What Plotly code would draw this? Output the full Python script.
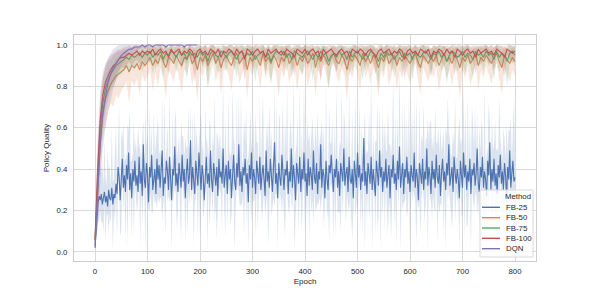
import plotly.graph_objects as go

# ---------------- data ----------------
epochs_fine = list(range(0, 801, 2))      # FB-25 sampled every 2 epochs
epochs = list(range(0, 801, 5))           # other FB runs sampled every 5 epochs
dqn_epochs = list(range(0, 200, 5))       # DQN run stops near epoch 200
methods = ["FB-25", "FB-50", "FB-75", "FB-100", "DQN"]
x_ticks = [0, 100, 200, 300, 400, 500, 600, 700, 800]
y_ticks = [0.0, 0.2, 0.4, 0.6, 0.8, 1.0]

fb25_mean = [
0.02,0.10,0.18,0.24,0.27,0.25,0.28,0.23,0.26,0.29,0.24,0.27,0.22,0.30,0.26,0.25,0.31,0.23,0.28,0.26,
0.33,0.28,0.41,0.36,0.25,0.39,0.45,0.31,0.37,0.29,0.42,0.35,0.48,0.30,0.38,0.26,0.40,0.34,0.44,0.32,
0.37,0.29,0.46,0.33,0.39,0.27,0.52,0.35,0.31,0.43,0.38,0.24,0.41,0.36,0.47,0.30,0.34,0.40,0.28,0.45,
0.35,0.42,0.31,0.38,0.49,0.27,0.36,0.33,0.44,0.39,0.30,0.46,0.34,0.25,0.40,0.37,0.51,0.32,0.38,0.29,
0.43,0.36,0.31,0.47,0.34,0.40,0.26,0.38,0.45,0.33,0.37,0.54,0.30,0.41,0.35,0.28,0.44,0.39,0.32,0.48,
0.36,0.30,0.42,0.37,0.25,0.40,0.46,0.33,0.38,0.31,0.49,0.35,0.29,0.43,0.37,0.32,0.41,0.27,0.45,0.36,
0.39,0.33,0.50,0.31,0.37,0.42,0.28,0.44,0.35,0.40,0.26,0.38,0.47,0.34,0.30,0.43,0.36,0.52,0.32,0.39,
0.29,0.41,0.37,0.45,0.33,0.38,0.24,0.42,0.35,0.48,0.31,0.40,0.36,0.28,0.44,0.38,0.33,0.46,0.30,0.37,
0.42,0.35,0.27,0.49,0.34,0.39,0.31,0.45,0.37,0.29,0.41,0.53,0.33,0.38,0.26,0.43,0.36,0.32,0.47,0.35,
0.30,0.40,0.37,0.44,0.28,0.39,0.34,0.50,0.31,0.42,0.36,0.25,0.43,0.38,0.33,0.46,0.29,0.40,0.35,0.48,
0.34,0.38,0.27,0.45,0.32,0.41,0.37,0.30,0.49,0.36,0.33,0.43,0.28,0.39,0.35,0.52,0.31,0.40,0.37,0.26,
0.44,0.35,0.30,0.42,0.38,0.47,0.33,0.29,0.40,0.36,0.45,0.31,0.39,0.27,0.43,0.37,0.34,0.50,0.32,0.38,
0.41,0.29,0.46,0.35,0.33,0.40,0.26,0.44,0.37,0.31,0.48,0.36,0.42,0.30,0.38,0.34,0.55,0.32,0.39,0.28,
0.43,0.37,0.33,0.46,0.30,0.40,0.35,0.27,0.44,0.38,0.32,0.49,0.36,0.41,0.29,0.39,0.34,0.45,0.31,0.37,
0.42,0.26,0.40,0.36,0.47,0.33,0.38,0.30,0.44,0.35,0.51,0.31,0.37,0.43,0.28,0.40,0.36,0.46,0.33,0.39,
0.29,0.42,0.37,0.34,0.48,0.31,0.40,0.36,0.25,0.43,0.38,0.33,0.45,0.30,0.39,0.35,0.50,0.32,0.41,0.37,
0.28,0.44,0.35,0.40,0.31,0.47,0.36,0.33,0.42,0.27,0.38,0.45,0.34,0.39,0.30,0.43,0.37,0.52,0.32,0.36,
0.41,0.29,0.46,0.38,0.33,0.40,0.35,0.26,0.44,0.37,0.31,0.48,0.36,0.42,0.30,0.39,0.34,0.45,0.28,0.40,
0.37,0.43,0.32,0.38,0.50,0.33,0.29,0.41,0.36,0.46,0.31,0.39,0.35,0.27,0.44,0.37,0.53,0.30,0.40,0.34,
0.45,0.32,0.38,0.28,0.42,0.36,0.47,0.33,0.39,0.30,0.43,0.37,0.26,0.41,0.35,0.49,0.31,0.38,0.44,0.34,
0.36]
# distance from the mean line down to the lower / up to the upper edge of the FB-25 band
fb25_lo_gap = [
0.01,0.04,0.07,0.09,0.12,0.05,0.14,0.08,0.16,0.06,0.19,0.09,0.04,0.21,0.07,0.12,0.05,0.24,0.08,0.11,
0.05,0.22,0.08,0.03,0.17,0.29,0.06,0.12,0.04,0.25,0.09,0.33,0.05,0.14,0.07,0.20,0.04,0.27,0.10,0.06,
0.18,0.04,0.09,0.31,0.06,0.13,0.23,0.05,0.36,0.08,0.15,0.04,0.21,0.07,0.28,0.11,0.05,0.17,0.03,0.24,
0.07,0.19,0.05,0.12,0.34,0.04,0.09,0.26,0.06,0.15,0.03,0.22,0.08,0.30,0.05,0.13,0.19,0.04,0.27,0.09,
0.04,0.16,0.28,0.06,0.11,0.05,0.23,0.08,0.37,0.04,0.14,0.20,0.06,0.09,0.32,0.05,0.17,0.07,0.25,0.12,
0.29,0.06,0.10,0.21,0.04,0.15,0.08,0.33,0.05,0.18,0.26,0.04,0.12,0.07,0.22,0.09,0.35,0.05,0.14,0.06,
0.11,0.24,0.05,0.08,0.30,0.04,0.17,0.13,0.06,0.27,0.09,0.05,0.20,0.38,0.07,0.12,0.04,0.23,0.10,0.16,
0.06,0.13,0.31,0.05,0.19,0.08,0.25,0.04,0.11,0.34,0.06,0.16,0.09,0.21,0.05,0.28,0.07,0.14,0.04,0.22,
0.18,0.05,0.09,0.27,0.06,0.36,0.12,0.04,0.20,0.08,0.15,0.31,0.05,0.10,0.24,0.06,0.13,0.04,0.29,0.07,
0.09,0.33,0.05,0.14,0.07,0.21,0.04,0.26,0.11,0.06,0.38,0.08,0.17,0.05,0.23,0.10,0.04,0.30,0.06,0.15,
0.24,0.07,0.12,0.04,0.28,0.09,0.18,0.05,0.35,0.06,0.13,0.22,0.04,0.16,0.08,0.32,0.05,0.11,0.26,0.07,
0.05,0.19,0.08,0.37,0.06,0.14,0.04,0.23,0.10,0.29,0.05,0.12,0.20,0.07,0.33,0.04,0.17,0.09,0.06,0.25,
0.13,0.04,0.27,0.07,0.16,0.34,0.05,0.10,0.21,0.06,0.30,0.08,0.04,0.18,0.11,0.26,0.05,0.38,0.07,0.14,
0.06,0.22,0.09,0.05,0.31,0.12,0.04,0.19,0.07,0.27,0.15,0.05,0.35,0.08,0.13,0.04,0.24,0.10,0.06,0.29,
0.17,0.05,0.33,0.08,0.04,0.20,0.11,0.28,0.06,0.14,0.05,0.36,0.09,0.23,0.04,0.16,0.07,0.30,0.12,0.05,
0.26,0.08,0.14,0.04,0.21,0.06,0.37,0.10,0.05,0.18,0.29,0.07,0.12,0.04,0.25,0.09,0.16,0.34,0.05,0.11,
0.04,0.28,0.07,0.19,0.12,0.05,0.32,0.09,0.23,0.04,0.15,0.06,0.27,0.10,0.38,0.05,0.13,0.21,0.07,0.17,
0.30,0.06,0.11,0.24,0.04,0.16,0.09,0.35,0.05,0.20,0.13,0.07,0.29,0.04,0.18,0.26,0.06,0.10,0.33,0.05,
0.12,0.22,0.05,0.09,0.31,0.07,0.17,0.04,0.27,0.11,0.06,0.36,0.08,0.14,0.05,0.23,0.10,0.04,0.19,0.28,
0.07,0.15,0.34,0.05,0.12,0.25,0.04,0.20,0.08,0.30,0.06,0.16,0.09,0.37,0.05,0.13,0.22,0.07,0.27,0.04,
0.18]
fb25_hi_gap = [
0.01,0.05,0.09,0.13,0.07,0.17,0.10,0.21,0.06,0.24,0.12,0.05,0.27,0.09,0.16,0.06,0.30,0.11,0.07,0.19,
0.28,0.06,0.14,0.35,0.05,0.20,0.09,0.31,0.07,0.16,0.04,0.26,0.11,0.38,0.06,0.18,0.08,0.29,0.05,0.22,
0.09,0.33,0.06,0.17,0.05,0.27,0.12,0.04,0.39,0.08,0.21,0.06,0.30,0.10,0.15,0.05,0.36,0.07,0.24,0.13,
0.31,0.05,0.19,0.08,0.26,0.06,0.40,0.11,0.05,0.23,0.09,0.34,0.06,0.17,0.28,0.05,0.12,0.37,0.07,0.20,
0.14,0.06,0.32,0.09,0.22,0.05,0.29,0.12,0.06,0.36,0.08,0.18,0.04,0.27,0.10,0.41,0.06,0.21,0.13,0.05,
0.25,0.38,0.07,0.16,0.05,0.30,0.09,0.20,0.06,0.34,0.11,0.05,0.26,0.08,0.39,0.06,0.17,0.29,0.05,0.22,
0.07,0.19,0.35,0.06,0.27,0.10,0.05,0.32,0.14,0.06,0.23,0.40,0.08,0.18,0.05,0.31,0.09,0.25,0.06,0.37,
0.12,0.05,0.28,0.08,0.36,0.06,0.21,0.11,0.33,0.05,0.17,0.26,0.07,0.39,0.09,0.15,0.05,0.30,0.08,0.24,
0.34,0.07,0.16,0.05,0.29,0.10,0.41,0.06,0.22,0.13,0.05,0.27,0.09,0.35,0.06,0.19,0.31,0.05,0.14,0.38,
0.06,0.25,0.10,0.37,0.05,0.18,0.30,0.07,0.13,0.42,0.06,0.23,0.09,0.28,0.05,0.34,0.11,0.20,0.07,0.32,
0.16,0.05,0.39,0.08,0.26,0.06,0.21,0.35,0.05,0.12,0.29,0.07,0.40,0.10,0.18,0.05,0.33,0.08,0.24,0.06,
0.37,0.10,0.06,0.28,0.15,0.05,0.31,0.09,0.22,0.06,0.36,0.13,0.05,0.27,0.08,0.41,0.06,0.19,0.30,0.07,
0.23,0.06,0.34,0.11,0.05,0.29,0.07,0.20,0.38,0.05,0.15,0.09,0.32,0.06,0.25,0.10,0.05,0.36,0.08,0.21,
0.05,0.31,0.12,0.40,0.07,0.18,0.06,0.27,0.09,0.35,0.05,0.22,0.14,0.06,0.38,0.08,0.29,0.05,0.17,0.33,
0.10,0.26,0.06,0.19,0.37,0.05,0.30,0.08,0.23,0.06,0.41,0.11,0.05,0.28,0.09,0.34,0.06,0.20,0.07,0.39,
0.06,0.17,0.32,0.05,0.27,0.09,0.36,0.06,0.14,0.30,0.05,0.24,0.08,0.42,0.07,0.19,0.05,0.33,0.11,0.26,
0.35,0.05,0.21,0.08,0.39,0.06,0.16,0.28,0.05,0.34,0.10,0.07,0.25,0.05,0.31,0.13,0.38,0.06,0.22,0.09,
0.07,0.29,0.05,0.36,0.12,0.06,0.23,0.40,0.08,0.18,0.05,0.33,0.09,0.26,0.06,0.37,0.05,0.20,0.11,0.31,
0.24,0.06,0.38,0.09,0.17,0.05,0.32,0.07,0.28,0.13,0.05,0.41,0.08,0.21,0.06,0.35,0.10,0.05,0.27,0.16,
0.05,0.33,0.11,0.22,0.06,0.39,0.08,0.17,0.05,0.30,0.12,0.07,0.36,0.06,0.25,0.09,0.34,0.05,0.19,0.40,
0.10]

fb50_mean = [
0.05,0.30,0.52,0.66,0.74,0.78,0.81,0.83,0.85,0.86,
0.87,0.88,0.90,0.87,0.90,0.89,0.91,0.88,0.92,0.90,
0.92,0.94,0.90,0.93,0.91,0.95,0.92,0.89,0.94,0.93,
0.91,0.95,0.92,0.90,0.94,0.93,0.96,0.91,0.93,0.88,
0.94,0.92,0.95,0.90,0.93,0.96,0.91,0.94,0.89,0.93,
0.95,0.92,0.90,0.94,0.96,0.91,0.93,0.95,0.88,0.94,
0.92,0.95,0.93,0.90,0.96,0.92,0.94,0.91,0.95,0.93,
0.89,0.94,0.92,0.96,0.91,0.93,0.95,0.90,0.94,0.92,
0.95,0.91,0.93,0.96,0.89,0.94,0.92,0.95,0.93,0.90,
0.94,0.96,0.92,0.91,0.95,0.93,0.88,0.94,0.92,0.95,
0.93,0.90,0.96,0.92,0.94,0.91,0.95,0.93,0.89,0.94,
0.92,0.96,0.91,0.93,0.95,0.90,0.94,0.92,0.95,0.93,
0.91,0.94,0.96,0.92,0.89,0.95,0.93,0.91,0.94,0.92,
0.95,0.90,0.93,0.96,0.92,0.94,0.91,0.95,0.93,0.89,
0.94,0.92,0.95,0.91,0.93,0.96,0.90,0.94,0.92,0.95,
0.93,0.91,0.94,0.96,0.92,0.89,0.95,0.93,0.91,0.94,
0.92]
fb50_lo = [
0.03,0.18,0.38,0.55,0.62,0.68,0.72,0.70,0.76,0.74,
0.78,0.80,0.82,0.72,0.83,0.80,0.84,0.76,0.86,0.82,
0.85,0.88,0.78,0.87,0.80,0.89,0.84,0.74,0.88,0.86,
0.82,0.89,0.85,0.77,0.88,0.86,0.91,0.80,0.87,0.73,
0.88,0.84,0.90,0.79,0.86,0.91,0.82,0.88,0.76,0.87,
0.89,0.85,0.78,0.88,0.91,0.81,0.86,0.90,0.74,0.88,
0.85,0.90,0.87,0.79,0.91,0.84,0.88,0.82,0.89,0.86,
0.75,0.88,0.84,0.91,0.81,0.87,0.90,0.78,0.88,0.85,
0.90,0.80,0.86,0.91,0.76,0.88,0.84,0.90,0.86,0.79,
0.88,0.91,0.85,0.82,0.89,0.86,0.73,0.88,0.84,0.90,
0.86,0.78,0.91,0.84,0.88,0.81,0.89,0.86,0.75,0.88,
0.84,0.91,0.80,0.86,0.90,0.78,0.88,0.84,0.89,0.86,
0.81,0.88,0.91,0.84,0.76,0.89,0.86,0.82,0.88,0.84,
0.90,0.78,0.86,0.91,0.84,0.88,0.80,0.89,0.86,0.74,
0.88,0.84,0.90,0.80,0.86,0.91,0.78,0.88,0.84,0.90,
0.86,0.81,0.88,0.91,0.84,0.76,0.89,0.86,0.82,0.88,
0.85]
fb50_hi = [
0.08,0.42,0.66,0.78,0.84,0.87,0.89,0.91,0.93,0.94,
0.95,0.95,0.97,0.95,0.97,0.96,0.98,0.96,0.98,0.97,
0.98,0.99,0.97,0.99,0.98,1.00,0.98,0.97,0.99,0.99,
0.97,1.00,0.98,0.97,0.99,0.98,1.00,0.97,0.99,0.96,
0.99,0.98,1.00,0.97,0.98,1.00,0.97,0.99,0.96,0.98,
1.00,0.98,0.97,0.99,1.00,0.97,0.98,1.00,0.96,0.99,
0.98,1.00,0.98,0.97,1.00,0.98,0.99,0.97,1.00,0.98,
0.96,0.99,0.98,1.00,0.97,0.98,1.00,0.97,0.99,0.98,
1.00,0.97,0.98,1.00,0.96,0.99,0.98,1.00,0.98,0.97,
0.99,1.00,0.98,0.97,1.00,0.98,0.96,0.99,0.98,1.00,
0.98,0.97,1.00,0.98,0.99,0.97,1.00,0.98,0.96,0.99,
0.98,1.00,0.97,0.98,1.00,0.97,0.99,0.98,1.00,0.98,
0.97,0.99,1.00,0.98,0.96,1.00,0.98,0.97,0.99,0.98,
1.00,0.97,0.98,1.00,0.98,0.99,0.97,1.00,0.98,0.96,
0.99,0.98,1.00,0.97,0.98,1.00,0.97,0.99,0.98,1.00,
0.98,0.97,0.99,1.00,0.98,0.96,1.00,0.98,0.97,0.99,
0.98]

fb75_mean = [
0.06,0.36,0.60,0.72,0.79,0.83,0.86,0.88,0.90,0.91,
0.92,0.93,0.94,0.93,0.95,0.94,0.95,0.96,0.94,0.96,
0.95,0.97,0.94,0.96,0.95,0.97,0.93,0.96,0.95,0.97,
0.96,0.94,0.97,0.95,0.96,0.93,0.97,0.95,0.96,0.94,
0.97,0.95,0.96,0.92,0.96,0.97,0.95,0.94,0.97,0.96,
0.94,0.96,0.97,0.95,0.93,0.96,0.97,0.94,0.96,0.95,
0.97,0.93,0.95,0.96,0.97,0.94,0.96,0.92,0.95,0.97,
0.96,0.95,0.97,0.94,0.96,0.93,0.97,0.96,0.95,0.94,
0.96,0.97,0.95,0.93,0.96,0.94,0.97,0.95,0.96,0.92,
0.95,0.96,0.94,0.97,0.95,0.96,0.93,0.97,0.94,0.96,
0.97,0.95,0.93,0.96,0.94,0.97,0.96,0.95,0.92,0.96,
0.94,0.97,0.95,0.96,0.93,0.95,0.97,0.94,0.96,0.95,
0.96,0.93,0.97,0.95,0.94,0.96,0.97,0.95,0.93,0.96,
0.95,0.97,0.94,0.96,0.92,0.95,0.97,0.96,0.94,0.95,
0.97,0.94,0.96,0.95,0.93,0.97,0.95,0.96,0.94,0.97,
0.95,0.96,0.93,0.97,0.94,0.96,0.95,0.92,0.96,0.97,
0.95]
fb75_lo = [
0.03,0.22,0.45,0.60,0.68,0.74,0.78,0.80,0.83,0.85,
0.86,0.88,0.89,0.86,0.90,0.88,0.90,0.92,0.87,0.91,
0.90,0.93,0.86,0.92,0.89,0.93,0.84,0.92,0.90,0.93,
0.92,0.87,0.93,0.89,0.92,0.83,0.93,0.90,0.92,0.87,
0.93,0.89,0.92,0.80,0.91,0.93,0.90,0.86,0.93,0.92,
0.87,0.92,0.93,0.90,0.84,0.92,0.93,0.88,0.92,0.90,
0.93,0.82,0.90,0.92,0.93,0.87,0.92,0.81,0.90,0.93,
0.92,0.90,0.93,0.87,0.92,0.84,0.93,0.92,0.89,0.86,
0.92,0.93,0.90,0.83,0.92,0.87,0.93,0.90,0.92,0.79,
0.90,0.92,0.87,0.93,0.89,0.92,0.84,0.93,0.87,0.92,
0.93,0.90,0.83,0.92,0.88,0.93,0.92,0.89,0.80,0.92,
0.87,0.93,0.90,0.92,0.84,0.90,0.93,0.87,0.92,0.89,
0.92,0.83,0.93,0.90,0.86,0.92,0.93,0.90,0.84,0.92,
0.89,0.93,0.87,0.92,0.81,0.90,0.93,0.92,0.87,0.89,
0.93,0.86,0.92,0.90,0.84,0.93,0.89,0.92,0.87,0.93,
0.90,0.92,0.83,0.93,0.87,0.92,0.90,0.80,0.92,0.93,
0.90]
fb75_hi = [
0.09,0.50,0.74,0.84,0.89,0.92,0.93,0.95,0.96,0.97,
0.97,0.98,0.98,0.98,0.99,0.99,0.99,1.00,0.99,1.00,
0.99,1.00,0.98,1.00,0.99,1.00,0.98,1.00,0.99,1.00,
1.00,0.98,1.00,0.99,1.00,0.98,1.00,0.99,1.00,0.99,
1.00,0.99,1.00,0.98,1.00,1.00,0.99,0.98,1.00,1.00,
0.99,1.00,1.00,0.99,0.98,1.00,1.00,0.99,1.00,0.99,
1.00,0.98,0.99,1.00,1.00,0.99,1.00,0.98,0.99,1.00,
1.00,0.99,1.00,0.99,1.00,0.98,1.00,1.00,0.99,0.99,
1.00,1.00,0.99,0.98,1.00,0.99,1.00,0.99,1.00,0.98,
0.99,1.00,0.99,1.00,0.99,1.00,0.98,1.00,0.99,1.00,
1.00,0.99,0.98,1.00,0.99,1.00,1.00,0.99,0.98,1.00,
0.99,1.00,0.99,1.00,0.98,0.99,1.00,0.99,1.00,0.99,
1.00,0.98,1.00,0.99,0.99,1.00,1.00,0.99,0.98,1.00,
0.99,1.00,0.99,1.00,0.98,0.99,1.00,1.00,0.99,0.99,
1.00,0.99,1.00,0.99,0.98,1.00,0.99,1.00,0.99,1.00,
0.99,1.00,0.98,1.00,0.99,1.00,0.99,0.98,1.00,1.00,
0.99]

fb100_mean = [
0.06,0.40,0.64,0.76,0.82,0.85,0.88,0.90,0.91,0.93,
0.94,0.94,0.95,0.96,0.95,0.96,0.97,0.95,0.97,0.96,
0.97,0.96,0.98,0.95,0.97,0.98,0.96,0.97,0.94,0.98,
0.96,0.97,0.98,0.95,0.97,0.96,0.98,0.97,0.93,0.97,
0.98,0.96,0.97,0.95,0.98,0.97,0.96,0.98,0.94,0.97,
0.96,0.98,0.97,0.95,0.98,0.96,0.97,0.93,0.98,0.97,
0.95,0.97,0.98,0.96,0.97,0.94,0.98,0.96,0.97,0.98,
0.96,0.97,0.95,0.98,0.97,0.96,0.94,0.98,0.97,0.96,
0.98,0.95,0.97,0.98,0.96,0.97,0.93,0.98,0.96,0.97,
0.98,0.96,0.95,0.97,0.98,0.96,0.97,0.94,0.98,0.97,
0.96,0.98,0.97,0.95,0.97,0.98,0.96,0.94,0.97,0.98,
0.96,0.97,0.98,0.95,0.97,0.96,0.98,0.97,0.93,0.97,
0.98,0.96,0.97,0.95,0.98,0.97,0.96,0.98,0.94,0.97,
0.96,0.98,0.97,0.95,0.98,0.96,0.97,0.94,0.98,0.97,
0.95,0.97,0.98,0.96,0.97,0.94,0.98,0.96,0.97,0.98,
0.96,0.97,0.95,0.98,0.97,0.96,0.94,0.98,0.97,0.96,
0.97]
fb100_lo = [
0.03,0.25,0.50,0.64,0.72,0.76,0.80,0.83,0.85,0.88,
0.89,0.89,0.90,0.92,0.90,0.92,0.93,0.89,0.93,0.91,
0.94,0.91,0.95,0.88,0.94,0.95,0.91,0.93,0.85,0.95,
0.91,0.94,0.95,0.88,0.93,0.91,0.95,0.93,0.82,0.94,
0.95,0.90,0.93,0.87,0.95,0.94,0.91,0.95,0.86,0.93,
0.91,0.95,0.94,0.88,0.95,0.90,0.93,0.83,0.95,0.94,
0.88,0.93,0.95,0.91,0.94,0.86,0.95,0.90,0.93,0.95,
0.91,0.94,0.87,0.95,0.93,0.90,0.85,0.95,0.94,0.91,
0.95,0.88,0.93,0.95,0.91,0.94,0.82,0.95,0.90,0.93,
0.95,0.91,0.87,0.94,0.95,0.90,0.93,0.85,0.95,0.94,
0.91,0.95,0.93,0.88,0.94,0.95,0.90,0.86,0.93,0.95,
0.91,0.94,0.95,0.87,0.93,0.91,0.95,0.94,0.83,0.93,
0.95,0.90,0.94,0.88,0.95,0.93,0.91,0.95,0.86,0.94,
0.91,0.95,0.93,0.88,0.95,0.90,0.94,0.85,0.95,0.93,
0.87,0.94,0.95,0.91,0.93,0.86,0.95,0.90,0.94,0.95,
0.91,0.93,0.88,0.95,0.94,0.90,0.85,0.95,0.93,0.91,
0.93]
fb100_hi = [
0.09,0.55,0.77,0.87,0.91,0.93,0.95,0.96,0.97,0.98,
0.98,0.99,0.99,1.00,0.99,1.00,1.00,0.99,1.00,0.99,
1.00,0.99,1.00,0.99,1.00,1.00,0.99,1.00,0.98,1.00,
0.99,1.00,1.00,0.99,1.00,0.99,1.00,1.00,0.98,1.00,
1.00,0.99,1.00,0.99,1.00,1.00,0.99,1.00,0.98,1.00,
0.99,1.00,1.00,0.99,1.00,0.99,1.00,0.98,1.00,1.00,
0.99,1.00,1.00,0.99,1.00,0.98,1.00,0.99,1.00,1.00,
0.99,1.00,0.99,1.00,1.00,0.99,0.98,1.00,1.00,0.99,
1.00,0.99,1.00,1.00,0.99,1.00,0.98,1.00,0.99,1.00,
1.00,0.99,0.99,1.00,1.00,0.99,1.00,0.98,1.00,1.00,
0.99,1.00,1.00,0.99,1.00,1.00,0.99,0.98,1.00,1.00,
0.99,1.00,1.00,0.99,1.00,0.99,1.00,1.00,0.98,1.00,
1.00,0.99,1.00,0.99,1.00,1.00,0.99,1.00,0.98,1.00,
0.99,1.00,1.00,0.99,1.00,0.99,1.00,0.98,1.00,1.00,
0.99,1.00,1.00,0.99,1.00,0.98,1.00,0.99,1.00,1.00,
0.99,1.00,0.99,1.00,1.00,0.99,0.98,1.00,1.00,0.99,
1.00]

dqn_mean = [
0.03,0.28,0.52,0.68,0.76,0.82,0.86,0.89,0.91,0.93,
0.95,0.96,0.97,0.98,0.98,0.99,0.99,0.99,1.00,0.99,
1.00,1.00,0.99,1.00,1.00,1.00,1.00,0.99,1.00,1.00,
1.00,1.00,1.00,1.00,0.99,1.00,1.00,1.00,1.00,1.00]
dqn_lo = [
0.01,0.12,0.33,0.50,0.60,0.68,0.74,0.79,0.83,0.86,
0.90,0.92,0.94,0.95,0.96,0.97,0.97,0.98,0.99,0.98,
0.99,0.99,0.98,1.00,0.99,1.00,0.99,0.98,1.00,0.99,
1.00,1.00,0.99,1.00,0.98,1.00,0.99,1.00,1.00,1.00]
dqn_hi = [
0.05,0.45,0.70,0.84,0.90,0.94,0.96,0.98,0.99,1.00,
1.00,1.00,1.00,1.00,1.00,1.00,1.00,1.00,1.00,1.00,
1.00,1.00,1.00,1.00,1.00,1.00,1.00,1.00,1.00,1.00,
1.00,1.00,1.00,1.00,1.00,1.00,1.00,1.00,1.00,1.00]

fb25_lo = [max(0.0, m - g) for m, g in zip(fb25_mean, fb25_lo_gap)]
fb25_hi = [m + g for m, g in zip(fb25_mean, fb25_hi_gap)]

# ---------------- styling ----------------
colors = {
    "FB-25": (76, 114, 176),
    "FB-50": (221, 132, 82),
    "FB-75": (85, 168, 104),
    "FB-100": (196, 78, 82),
    "DQN": (129, 114, 179),
}

series = [
    ("FB-25", epochs_fine, fb25_mean, fb25_lo, fb25_hi),
    ("FB-50", epochs, fb50_mean, fb50_lo, fb50_hi),
    ("FB-75", epochs, fb75_mean, fb75_lo, fb75_hi),
    ("FB-100", epochs, fb100_mean, fb100_lo, fb100_hi),
    ("DQN", dqn_epochs, dqn_mean, dqn_lo, dqn_hi),
]

fig = go.Figure()
for name, xs, m, lo, hi in series:
    r, g, b = colors[name]
    fig.add_trace(go.Scatter(
        x=list(xs) + list(xs)[::-1],
        y=list(hi) + list(lo)[::-1],
        fill="toself", fillcolor=f"rgba({r},{g},{b},0.2)",
        line=dict(width=0), mode="lines", hoverinfo="skip", showlegend=False,
    ))
    fig.add_trace(go.Scatter(
        x=xs, y=m, mode="lines", name=name, showlegend=False,
        line=dict(color=f"rgb({r},{g},{b})", width=1.1),
    ))

# page is offset by the 8px body margin; plot area spans page x 74..536, y 35..261
PL, PR, PT, PB = 74.0, 536.0, 35.0, 261.0
def pxx(v):
    return (v - PL) / (PR - PL)
def pyy(v):
    return (PB - v) / (PB - PT)

font_color = "#262626"
shapes = [dict(type="rect", xref="paper", yref="paper",
               x0=pxx(480), x1=pxx(533), y0=pyy(257), y1=pyy(190),
               fillcolor="rgba(255,255,255,0.8)", line=dict(color="#d9d9d9", width=1))]
annotations = [dict(text="Method", xref="paper", yref="paper", x=pxx(517.5), y=pyy(196.5),
                    xanchor="center", yanchor="middle", showarrow=False,
                    font=dict(size=7.8, color=font_color))]
row_y = [207.3, 217.7, 228.0, 238.3, 248.7]
for name, yy in zip(methods, row_y):
    r, g, b = colors[name]
    shapes.append(dict(type="line", xref="paper", yref="paper",
                       x0=pxx(482), x1=pxx(500), y0=pyy(yy), y1=pyy(yy),
                       line=dict(color=f"rgb({r},{g},{b})", width=1.4)))
    annotations.append(dict(text=name, xref="paper", yref="paper", x=pxx(503.5), y=pyy(yy),
                            xanchor="left", yanchor="middle", showarrow=False,
                            font=dict(size=7.8, color=font_color)))

fig.update_layout(
    width=588, height=290,
    margin=dict(l=66, r=60, t=27, b=37, pad=0),
    paper_bgcolor="white", plot_bgcolor="white",
    font=dict(family="Liberation Sans, Arial, sans-serif", size=7.8, color=font_color),
    showlegend=False, shapes=shapes, annotations=annotations,
)
fig.update_xaxes(
    range=[-40, 840], tickvals=x_ticks, ticktext=[str(v) for v in x_ticks],
    showgrid=True, gridcolor="#d9d9d9", gridwidth=1, zeroline=False,
    showline=True, mirror=True, linecolor="#cccccc", linewidth=1,
    ticks="outside", ticklen=3, tickcolor="rgba(0,0,0,0)",
    title=dict(text="Epoch", font=dict(size=8), standoff=3), automargin=False,
)
fig.update_yaxes(
    range=[-0.0435, 1.048], tickvals=y_ticks, ticktext=[f"{v:.1f}" for v in y_ticks],
    showgrid=True, gridcolor="#d9d9d9", gridwidth=1, zeroline=False,
    showline=True, mirror=True, linecolor="#cccccc", linewidth=1,
    ticks="outside", ticklen=4, tickcolor="rgba(0,0,0,0)",
    title=dict(text="Policy Quality", font=dict(size=8), standoff=5), automargin=False,
)

fig.write_html("out.html")
